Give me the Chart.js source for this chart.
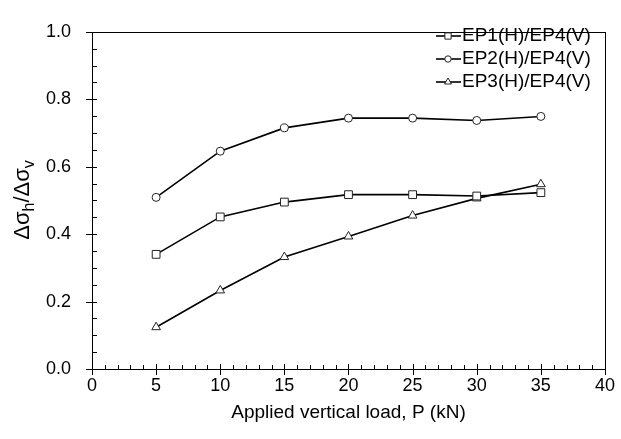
<!DOCTYPE html>
<html>
<head>
<meta charset="utf-8">
<script src="https://cdn.jsdelivr.net/npm/chart.js@4.4.0/dist/chart.umd.min.js"></script>
<style>
  html, body { margin: 0; padding: 0; background: #fff; }
</style>
</head>
<body>
<canvas id="myChart" width="621" height="439"></canvas>
<script>
// data
const loads = [5, 10, 15, 20, 25, 30, 35];
const ep1 = [0.340, 0.451, 0.495, 0.517, 0.517, 0.513, 0.523];
const ep2 = [0.509, 0.646, 0.715, 0.744, 0.744, 0.737, 0.749];
const ep3 = [0.124, 0.233, 0.332, 0.393, 0.455, 0.506, 0.548];
const seriesNames = ["EP1(H)/EP4(V)", "EP2(H)/EP4(V)", "EP3(H)/EP4(V)"];
const xMajor = [0, 5, 10, 15, 20, 25, 30, 35, 40];
const yMajor = [0.0, 0.2, 0.4, 0.6, 0.8, 1.0];
const xTitle = "Applied vertical load, P (kN)";

const FONT = "'Liberation Sans', Arial, sans-serif";

function pts(ys) {
  return loads.map((x, i) => ({ x: x, y: ys[i] }));
}

function makeSet(label, ys, style, radius) {
  return {
    label: label,
    data: pts(ys),
    borderColor: "#000",
    borderWidth: 1.6,
    pointStyle: style,
    pointRadius: radius,
    pointBorderColor: "#222",
    pointBorderWidth: 1,
    pointBackgroundColor: "#fff",
    showLine: true,
    tension: 0
  };
}

// frame, inward ticks, y title with subscripts, legend
const decor = {
  id: "decor",
  afterDraw(chart) {
    const ctx = chart.ctx;
    const a = chart.chartArea;
    const xs = chart.scales.x, ys = chart.scales.y;
    ctx.save();
    ctx.strokeStyle = "#000";
    ctx.lineWidth = 1;
    ctx.strokeRect(Math.round(a.left) + 0.5, Math.round(a.top) + 0.5,
      Math.round(a.right - a.left), Math.round(a.bottom - a.top));

    ctx.beginPath();
    for (let v = 0; v <= 40; v++) {
      const px = Math.round(xs.getPixelForValue(v)) + 0.5;
      if (v % 5 === 0) {
        ctx.moveTo(px, a.bottom - 5); ctx.lineTo(px, a.bottom + 6);
      } else {
        ctx.moveTo(px, a.bottom - 4); ctx.lineTo(px, a.bottom);
      }
    }
    for (let k = 0; k <= 20; k++) {
      const py = Math.round(ys.getPixelForValue(k * 0.05)) + 0.5;
      if (k % 4 === 0) {
        ctx.moveTo(a.left - 6, py); ctx.lineTo(a.left + 5, py);
      } else {
        ctx.moveTo(a.left, py); ctx.lineTo(a.left + 5, py);
      }
    }
    ctx.stroke();

    // y axis title: Δσh/Δσv
    ctx.fillStyle = "#000";
    ctx.textBaseline = "alphabetic";
    const big = "22px " + FONT, small = "16px " + FONT;
    const parts = [["Δσ", big, 0], ["h", small, 5], ["/Δσ", big, 0], ["v", small, 5]];
    let total = 0;
    parts.forEach(p => { ctx.font = p[1]; total += ctx.measureText(p[0]).width; });
    ctx.translate(29, 200);
    ctx.rotate(-Math.PI / 2);
    let cx = -total / 2;
    parts.forEach(p => {
      ctx.font = p[1];
      ctx.fillText(p[0], cx, p[2]);
      cx += ctx.measureText(p[0]).width;
    });
    ctx.setTransform(1, 0, 0, 1, 0, 0);

    // legend
    ctx.font = "19px " + FONT;
    ctx.textBaseline = "middle";
    chart.data.datasets.forEach((ds, i) => {
      const y = 36 + i * 23;
      ctx.beginPath();
      ctx.strokeStyle = "#000";
      ctx.lineWidth = 1.6;
      ctx.moveTo(436, y); ctx.lineTo(461, y);
      ctx.stroke();
      ctx.fillStyle = "#fff";
      ctx.strokeStyle = "#222";
      ctx.lineWidth = 1;
      Chart.helpers.drawPoint(ctx, {
        pointStyle: ds.pointStyle, rotation: 0, radius: ds.pointRadius * 0.8, borderWidth: 1
      }, 448, y);
      ctx.fillStyle = "#000";
      ctx.fillText(seriesNames[i], 462, y);
    });
    ctx.restore();
  }
};

const ctx = document.getElementById("myChart").getContext("2d");
const chart = new Chart(ctx, {
  type: "scatter",
  data: {
    datasets: [
      makeSet(seriesNames[0], ep1, "rect", 5.5),
      makeSet(seriesNames[1], ep2, "circle", 4),
      makeSet(seriesNames[2], ep3, "triangle", 5)
    ]
  },
  options: {
    responsive: false,
    devicePixelRatio: 1,
    animation: false,
    layout: { padding: { top: 13, right: 14, left: 0, bottom: 0 } },
    plugins: { legend: { display: false }, tooltip: { enabled: false } },
    scales: {
      x: {
        type: "linear",
        min: 0, max: 40,
        afterFit(s) { s.height = 70; },
        afterBuildTicks(s) { s.ticks = xMajor.map(v => ({ value: v })); },
        grid: { display: false, drawTicks: false },
        border: { display: false },
        ticks: { color: "#000", font: { family: FONT, size: 18 }, padding: 6, maxRotation: 0 },
        title: { display: true, text: xTitle, color: "#000", font: { family: FONT, size: 19 }, padding: { top: 0, bottom: 15 } }
      },
      y: {
        type: "linear",
        min: 0, max: 1,
        afterFit(s) { s.width = 92; },
        afterBuildTicks(s) { s.ticks = yMajor.map(v => ({ value: v })); },
        grid: { display: false, drawTicks: false },
        border: { display: false },
        ticks: { color: "#000", font: { family: FONT, size: 18 }, padding: 21, callback: v => v.toFixed(1) }
      }
    }
  },
  plugins: [decor]
});
</script>
</body>
</html>
